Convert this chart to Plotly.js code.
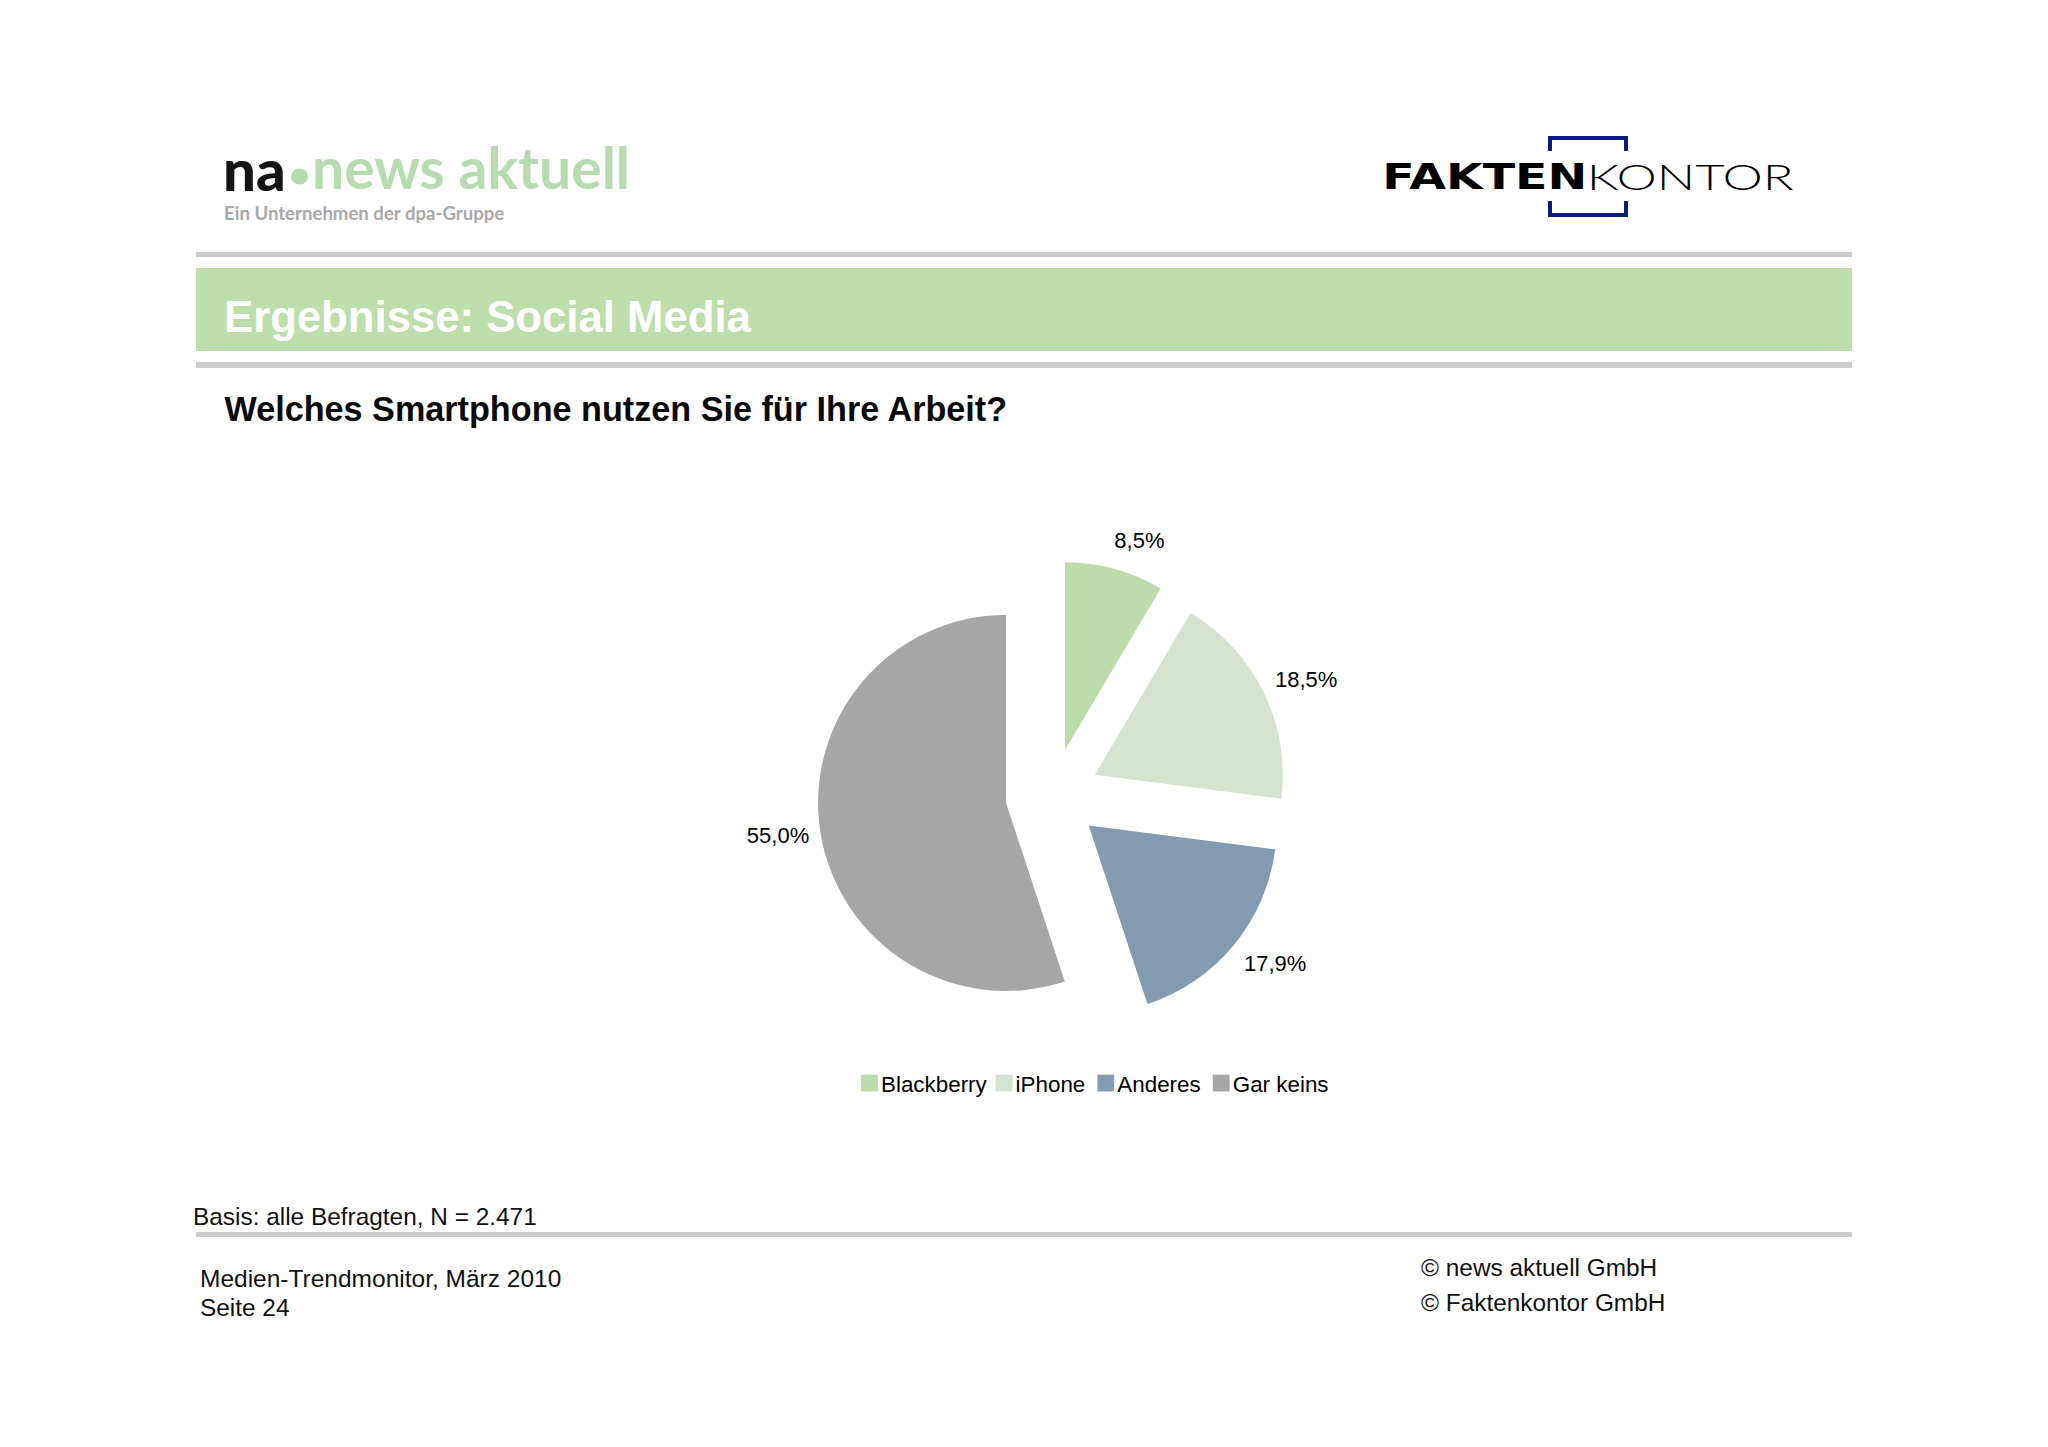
<!DOCTYPE html>
<html>
<head>
<meta charset="utf-8">
<script src="https://cdn.plot.ly/plotly-3.0.1.min.js"></script>
<style>html,body{margin:0;padding:0;background:#fff}#chart{width:2048px;height:1447px}</style>
</head>
<body>
<div id="chart"></div>
<script>
const categories = ["Blackberry", "iPhone", "Anderes", "Gar keins"];
const shares = [8.5, 18.5, 17.9, 55.0];
const shareLabels = ["8,5%", "18,5%", "17,9%", "55,0%"];
const sliceColors = ["#BCDCAB", "#D5E2CE", "#829BB0", "#A6A6A6"];
const slicePull = [0.25, 0.25, 0.25, 0.25];

const W = 2048, H = 1447;
const px = x => x / W;
const py = y => 1 - y / H;
const ARIAL = '"Liberation Sans", Arial, sans-serif';
const LOGO = '"Lato", sans-serif';

function note(text, x, y, size, color, opts) {
  return Object.assign({
    text: text, xref: "paper", yref: "paper", x: px(x), y: py(y),
    xanchor: "left", yanchor: "middle", showarrow: false, borderpad: 0,
    font: {family: ARIAL, size: size, color: color}
  }, opts || {});
}
function rect(x0, y0, x1, y1, color) {
  return {type: "rect", xref: "paper", yref: "paper", x0: px(x0), x1: px(x1), y0: py(y0), y1: py(y1),
          fillcolor: color, line: {width: 0}, layer: "below"};
}
function bracket(pts) {
  const path = pts.map((p, i) => (i ? "L" : "M") + px(p[0]) + "," + py(p[1])).join(" ");
  return {type: "path", xref: "paper", yref: "paper", path: path, fillcolor: "rgba(0,0,0,0)",
          line: {color: "#0B1C7E", width: 4}};
}

const annotations = [
  note("na", 221.5, 169, 58, "#141414", {font: {family: LOGO, size: 58, color: "#141414", weight: 900}}),
  note("news aktuell", 311, 167, 57, "#B5DBAE", {font: {family: LOGO, size: 57, color: "#B5DBAE", weight: 700}}),
  note("Ein Unternehmen der dpa-Gruppe", 223, 213, 18.6, "#A8A8A8", {font: {family: LOGO, size: 18.6, color: "#A8A8A8", weight: 700}}),
  note("FAKTEN", 1485, 176, 36, "#000", {xanchor: "center", font: {family: '"DejaVu Sans"', size: 36, color: "#000", weight: 700}}),
  note("KONTOR", 1690, 176, 36, "#000", {xanchor: "center", font: {family: LOGO, size: 36, color: "#000", weight: 300}}),
  note("Ergebnisse: Social Media", 223.2, 317, 43.7, "#FFFFFF", {font: {family: ARIAL, size: 43.7, color: "#FFFFFF", weight: 700}}),
  note("Basis: alle Befragten, N = 2.471", 191.5, 1216, 24.4, "#111"),
  note("Medien-Trendmonitor, März 2010", 198.5, 1278, 24.5, "#111"),
  note("Seite 24", 198.5, 1307.5, 24.4, "#111"),
  note("© news aktuell GmbH", 1419.5, 1267, 24.4, "#111"),
  note("© Faktenkontor GmbH", 1419.5, 1302, 24.4, "#111")
];

const shapes = [
  rect(196, 252, 1852, 257, "#CCCCCC"),
  rect(196, 268, 1852, 351, "#BDDDAB"),
  rect(196, 362, 1852, 368, "#CCCCCC"),
  rect(196, 1232, 1852, 1237, "#CCCCCC"),
  bracket([[1550, 151], [1550, 138], [1626, 138], [1626, 151]]),
  bracket([[1550, 201], [1550, 215], [1626, 215], [1626, 201]]),
  {type: "circle", xref: "paper", yref: "paper", x0: px(291), x1: px(308), y0: py(168.5), y1: py(184.5),
   fillcolor: "#B5DBAE", line: {width: 0}}
];

const trace = {
  type: "pie",
  labels: categories,
  values: shares,
  text: shareLabels,
  textinfo: "text",
  textposition: "outside",
  outsidetextfont: {family: ARIAL, size: 22, color: "#000"},
  sort: false,
  direction: "clockwise",
  rotation: 0,
  pull: slicePull,
  marker: {colors: sliceColors, line: {width: 0}},
  domain: {x: [px(817.5), px(1287.5)], y: [py(1030.5), py(560.5)]},
  hoverinfo: "label+percent"
};

const layout = {
  width: W, height: H,
  margin: {l: 0, r: 0, t: 0, b: 0},
  paper_bgcolor: "#FFFFFF",
  title: {
    text: "Welches Smartphone nutzen Sie für Ihre Arbeit?",
    x: px(224.5), xref: "paper", xanchor: "left",
    y: py(409.5), yref: "paper", yanchor: "middle",
    font: {family: ARIAL, size: 34.2, color: "#0A0A0A", weight: 700}
  },
  showlegend: true,
  legend: {
    orientation: "h", x: px(856), xanchor: "left", y: py(1062), yanchor: "top",
    traceorder: "normal", indentation: -15,
    font: {family: ARIAL, size: 22.4, color: "#000"},
    bgcolor: "rgba(0,0,0,0)"
  },
  annotations: annotations,
  shapes: shapes
};

Plotly.newPlot("chart", [trace], layout, {displayModeBar: false, responsive: false}).then(gd => {
  // logo wordmarks are set wide
  const wide = {FAKTEN: 205, KONTOR: 207};
  gd.querySelectorAll("text.annotation-text").forEach(t => {
    const w = wide[t.textContent];
    if (w) { t.setAttribute("textLength", w); t.setAttribute("lengthAdjust", "spacingAndGlyphs"); }
  });
  // legend keys are larger and closer to their labels, with slightly uneven gaps
  gd.querySelectorAll(".legendpoints path").forEach(p => {
    p.setAttribute("transform", (p.getAttribute("transform") || "") + " translate(8.5,0) scale(1.4)");
  });
  const legendShift = [0, -2, 0, 2];
  gd.querySelectorAll(".legend .traces").forEach((t, i) => {
    t.setAttribute("transform", "translate(" + legendShift[i] + ",0) " + (t.getAttribute("transform") || ""));
  });
  // data labels sit a little further out than Plotly's default outside position
  const labelShift = [[-6.5, -17], [5, -10], [4, 13], [-5, 3]];
  gd.querySelectorAll("g.slice").forEach((s, i) => {
    const t = s.querySelector("g.slicetext text");
    if (t) t.setAttribute("transform", "translate(" + labelShift[i].join(",") + ") " + (t.getAttribute("transform") || ""));
  });
});
</script>
</body>
</html>
